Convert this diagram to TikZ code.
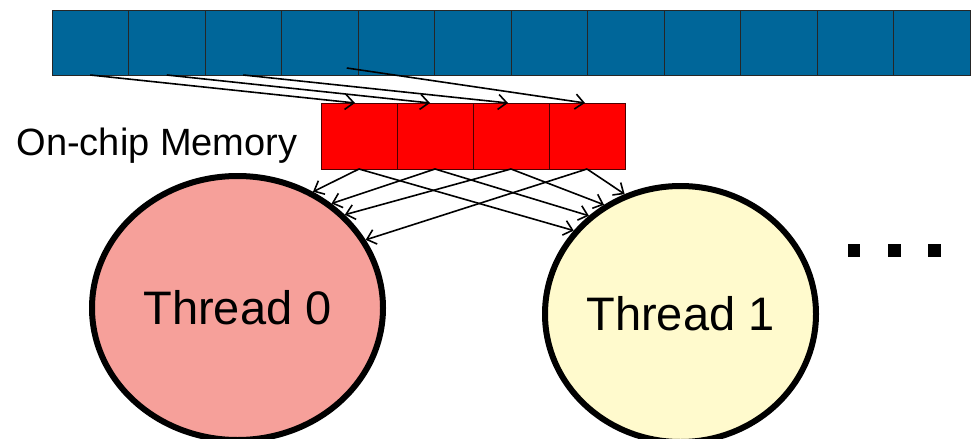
\documentclass[tikz,border=0pt]{standalone}
\usepackage{fontspec}
\setmainfont{Liberation Sans}
\usetikzlibrary{shapes.geometric,arrows.meta}
\definecolor{blueC}{RGB}{0,102,153}
\definecolor{redC}{RGB}{255,0,0}
\definecolor{thrA}{RGB}{246,160,154}
\definecolor{thrB}{RGB}{255,250,205}
\begin{document}
\begin{tikzpicture}[x=1pt,y=-1pt,
  bcell/.style={draw=black!85, line width=0.9pt, fill=blueC, minimum width=76.5pt, minimum height=65pt, inner sep=0pt, outer sep=0pt},
  rcell/.style={draw=black!70!red, line width=0.9pt, fill=redC, minimum width=76pt, minimum height=66pt, inner sep=0pt, outer sep=0pt},
  thr/.style={ellipse, draw=black, line width=6pt, inner sep=0pt, font=\fontsize{47}{50}\selectfont},
  arr/.style={-{Straight Barb[length=8.5pt,width=15pt,line width=1.6pt]}, line width=1.6pt, black},
  dotbox/.style={fill=black, minimum width=12.5pt, minimum height=13pt, inner sep=0pt}]
\useasboundingbox (0,0) rectangle (972,439);
% global memory cells
\foreach \i in {0,...,11}
  \node[bcell] (b\i) at (52+76.5*\i+38.25, 42.5) {};
% on-chip memory cells
\foreach \i in {0,...,3}
  \node[rcell] (r\i) at (321+76*\i+38, 136) {};
\node[font=\fontsize{38}{40}\selectfont] (lbl) at (157,146) {On-chip Memory};
% threads
\node[thr, fill=thrA, minimum width=291pt, minimum height=264pt] (t0) at (237.5,308) {Thread 0};
\node[thr, fill=thrB, minimum width=271pt, minimum height=256pt] (t1) at (680.5,314) {Thread 1};
% dots
\node[dotbox] (d0) at (854,250) {};
\node[dotbox] (d1) at (894.5,250) {};
\node[dotbox] (d2) at (934.5,250) {};
% global -> on-chip
\draw[arr] (b0.south) -- ([xshift=-4pt]r0.north);
\draw[arr] (b1.south) -- ([xshift=-5pt]r1.north);
\draw[arr] (b2.south) -- ([xshift=-3pt]r2.north);
\draw[arr] ([xshift=27pt,yshift=7pt]b3.south) -- ([xshift=-2pt]r3.north);
% on-chip -> threads
\draw[arr] (r0.south) -- (t0.57.4);
\draw[arr] (r1.south) -- (t0.48);
\draw[arr] (r2.south) -- (t0.41);
\draw[arr] (r3.south) -- (t0.28.2);
\draw[arr] (r0.south) -- (t1.142.3);
\draw[arr] (r1.south) -- (t1.133.4);
\draw[arr] (r2.south) -- (t1.125.9);
\draw[arr] (r3.south) -- (t1.115.8);
\end{tikzpicture}
\end{document}
